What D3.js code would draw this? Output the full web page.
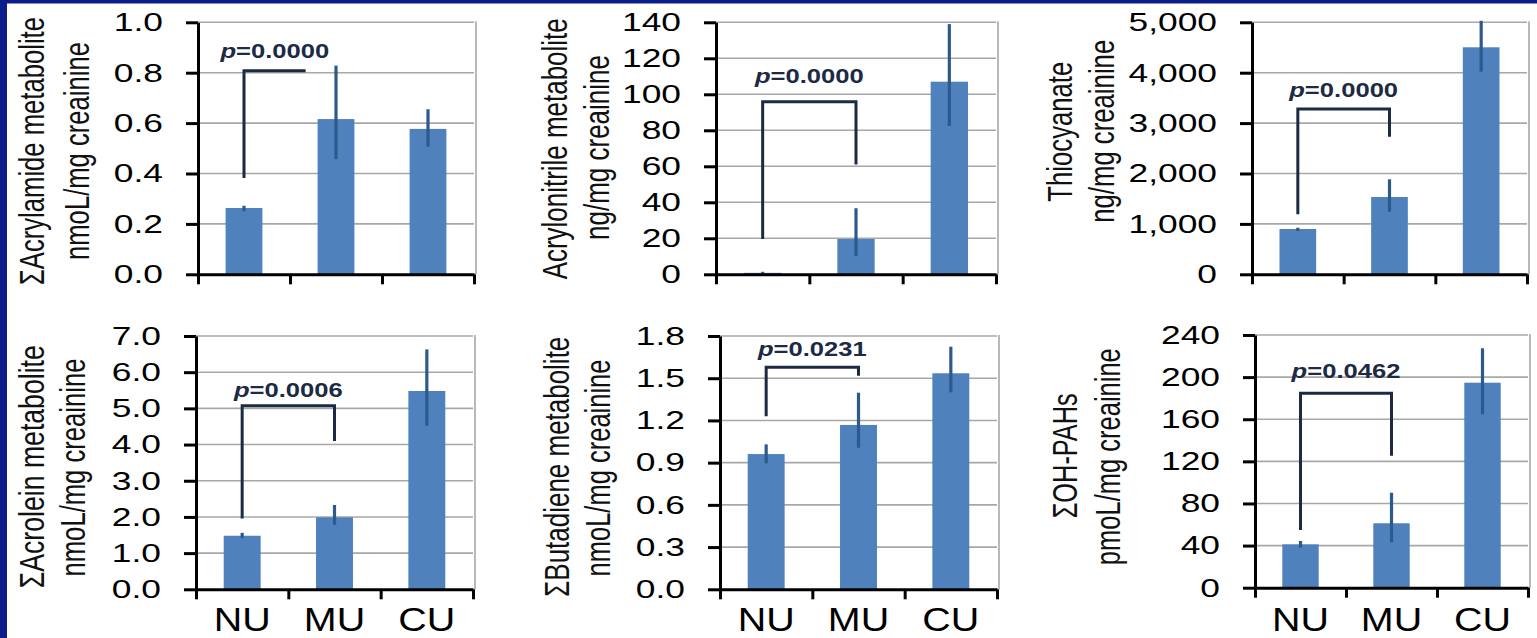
<!DOCTYPE html>
<html>
<head>
<meta charset="utf-8">
<script src="https://cdn.jsdelivr.net/npm/d3@7"></script>
<style>
  html, body { margin: 0; padding: 0; background: #ffffff; }
  svg { display: block; }
</style>
</head>
<body>
<svg id="chart" width="1537" height="638"></svg>
<script>
// ---- data -------------------------------------------------------------
const categories = ["NU", "MU", "CU"];

// Acrylamide metabolites (nmoL/mg creatinine)
const acrylamideMean = [0.263, 0.616, 0.577];
const acrylamideLow  = [0.250, 0.457, 0.506];
const acrylamideHigh = [0.272, 0.828, 0.655];

// Acrylonitrile metabolite (ng/mg creatinine)
const acrylonitrileMean = [0.8, 19.6, 107.0];
const acrylonitrileLow  = [0.3, 10.2, 82.4];
const acrylonitrileHigh = [1.4, 36.7, 139.0];

// Thiocyanate (ng/mg creatinine)
const thiocyanateMean = [899, 1534, 4504];
const thiocyanateLow  = [859, 1242, 4020];
const thiocyanateHigh = [925, 1885, 5030];

// Acrolein metabolites (nmoL/mg creatinine)
const acroleinMean = [1.48, 1.99, 5.48];
const acroleinLow  = [1.41, 1.78, 4.52];
const acroleinHigh = [1.56, 2.33, 6.63];

// Butadiene metabolites (nmoL/mg creatinine)
const butadieneMean = [0.961, 1.168, 1.535];
const butadieneLow  = [0.895, 1.006, 1.400];
const butadieneHigh = [1.030, 1.397, 1.724];

// OH-PAHs (pmoL/mg creatinine)
const ohPahMean = [41.2, 61.2, 194.7];
const ohPahLow  = [38.0, 43.1, 164.7];
const ohPahHigh = [44.4, 90.2, 227.4];

// axis titles (two lines each)
const titles = [
  ["ΣAcrylamide metabolite", "nmoL/mg creainine"],
  ["Acrylonitrile metabolite", "ng/mg creainine"],
  ["Thiocyanate", "ng/mg creainine"],
  ["ΣAcrolein metabolite", "nmoL/mg creainine"],
  ["ΣButadiene metabolite", "nmoL/mg creainine"],
  ["ΣOH-PAHs", "pmoL/mg creainine"]
];

// y axis extent and tick step
const yMax  = [1.0, 140, 5000, 7.0, 1.8, 240];
const yStep = [0.2, 20, 1000, 1.0, 0.3, 40];
const yFormat = [".1f", "d", ",d", ".1f", ".1f", "d"];

// NU vs MU comparison
const pValues = ["0.0000", "0.0000", "0.0000", "0.0006", "0.0231", "0.0462"];
// bracket levels in data units: left leg foot, bar top, right leg foot, label baseline
const bracketLeft  = [0.382, 19.6, 1190, 1.96, 1.23, 54.8];
const bracketTop   = [0.808, 95.9, 3280, 5.07, 1.578, 184.6];
const bracketRight = [0.808, 61.0, 2730, 4.10, 1.518, 125.4];
const pLabelLevel  = [0.860, 106.1, 3524, 5.32, 1.66, 199.2];
// how far the bracket reaches from NU toward MU (1 = MU centre)
const bracketReach = [0.67, 1, 1, 1, 1, 1];

const means = [acrylamideMean, acrylonitrileMean, thiocyanateMean, acroleinMean, butadieneMean, ohPahMean];
const lows  = [acrylamideLow, acrylonitrileLow, thiocyanateLow, acroleinLow, butadieneLow, ohPahLow];
const highs = [acrylamideHigh, acrylonitrileHigh, thiocyanateHigh, acroleinHigh, butadieneHigh, ohPahHigh];

// ---- layout -------------------------------------------------------------
const panels = [
  { x0: 198, x1: 474, yT: 22.3, yB: 274.3, tx: [43.6, 88.6],     ty: [151, 151],     tl: [268, 218], cats: false },
  { x0: 716, x1: 996, yT: 22.3, yB: 274.3, tx: [567, 608.6],     ty: [148.8, 147.5], tl: [261, 185], cats: false },
  { x0: 1252, x1: 1527, yT: 22.3, yB: 274.3, tx: [1072, 1113.6], ty: [131.7, 131.3], tl: [140, 183], cats: false },
  { x0: 196, x1: 473, yT: 336, yB: 589.3, tx: [43.6, 85.3],      ty: [466.7, 467.5], tl: [243, 218], cats: true },
  { x0: 720, x1: 997, yT: 336, yB: 589.3, tx: [568.6, 610.3],    ty: [466.7, 468],   tl: [260, 217], cats: true },
  { x0: 1255, x1: 1528, yT: 335, yB: 587.7, tx: [1077, 1120.3],  ty: [455.8, 456.7], tl: [125, 217], cats: true }
];

const BAR = "#4f81bd";
const ERR = "#2c5a8d";
const GRID = "#a8a8a8";
const BRACKET = "#1c2a44";
const FONT = "'Liberation Sans', Arial, sans-serif";
const TICK_SX = 1.36;   // horizontal stretch of horizontal labels
const TITLE_SY = 1.36;  // glyph-height stretch of the rotated titles
const CAT_BASELINE = 630.5; // keeps the category labels inside the page

const svg = d3.select("#chart");
svg.append("rect").attr("width", 1537).attr("height", 638).attr("fill", "#ffffff");

panels.forEach((p, i) => {
  const g = svg.append("g");
  const y = d3.scaleLinear().domain([0, yMax[i]]).range([p.yB, p.yT]);
  const x = d3.scaleBand().domain(categories).range([p.x0, p.x1]).padding(0);
  const xEdge = d3.scaleLinear().domain([0, categories.length]).range([p.x0, p.x1]);
  const nTicks = Math.round(yMax[i] / yStep[i]);
  const ticks = d3.range(0, nTicks + 1).map(k => +(k * yStep[i]).toFixed(6));
  const cx = c => x(c) + x.bandwidth() / 2;

  // horizontal gridlines
  g.append("g").selectAll("line").data(ticks.filter(t => t > 0)).join("line")
    .attr("x1", p.x0).attr("x2", p.x1)
    .attr("y1", d => y(d)).attr("y2", d => y(d))
    .attr("stroke", GRID).attr("stroke-width", 1.6);
  // right border of plot area
  g.append("line").attr("x1", p.x1 + 2).attr("x2", p.x1 + 2)
    .attr("y1", p.yT - 1).attr("y2", p.yB)
    .attr("stroke", GRID).attr("stroke-width", 1.6);

  // bars
  const rows = categories.map((c, k) => ({ c, v: means[i][k], lo: lows[i][k], hi: highs[i][k] }));
  const bw = x.bandwidth() * 0.4;
  g.append("g").selectAll("rect").data(rows).join("rect")
    .attr("x", d => cx(d.c) - bw / 2)
    .attr("width", bw)
    .attr("y", d => y(d.v))
    .attr("height", d => y(0) - y(d.v))
    .attr("fill", BAR);

  // error bars
  g.append("g").selectAll("line").data(rows).join("line")
    .attr("x1", d => cx(d.c)).attr("x2", d => cx(d.c))
    .attr("y1", d => y(d.lo)).attr("y2", d => y(d.hi))
    .attr("stroke", ERR).attr("stroke-width", 3.2);

  // y axis
  const yAxis = g.append("g").attr("transform", `translate(${p.x0},0)`)
    .call(d3.axisLeft(y).tickValues(ticks).tickSize(12).tickSizeOuter(0)
      .tickFormat(d3.format(yFormat[i])).tickPadding(23));
  yAxis.select(".domain").attr("stroke", "#000").attr("stroke-width", 3);
  yAxis.selectAll(".tick line").attr("stroke", "#000").attr("stroke-width", 3);
  yAxis.selectAll(".tick text")
    .attr("font-family", FONT).attr("font-size", 26).attr("fill", "#000")
    .attr("x", -35 / TICK_SX)
    .attr("transform", `scale(${TICK_SX},1)`);

  // x axis (ticks at category boundaries)
  const xAxis = g.append("g").attr("transform", `translate(0,${p.yB})`)
    .call(d3.axisBottom(xEdge).tickValues(d3.range(0, categories.length + 1))
      .tickSize(10).tickSizeOuter(0).tickFormat(""));
  xAxis.select(".domain").attr("stroke", "#000").attr("stroke-width", 3);
  xAxis.selectAll(".tick line").attr("stroke", "#000").attr("stroke-width", 3);

  // category labels on the lower row
  if (p.cats) {
    g.append("g").selectAll("text").data(categories).join("text")
      .attr("transform", d => `translate(${cx(d)},${Math.min(p.yB + 46, CAT_BASELINE)}) scale(1.16,1)`)
      .attr("text-anchor", "middle")
      .attr("font-family", FONT).attr("font-size", 34).attr("fill", "#000")
      .text(d => d);
  }

  // axis titles
  titles[i].forEach((t, k) => {
    g.append("text")
      .attr("transform", `translate(${p.tx[k]},${p.ty[k]}) rotate(-90) scale(1,${TITLE_SY})`)
      .attr("text-anchor", "middle")
      .attr("font-family", FONT).attr("font-size", 26).attr("fill", "#111")
      .attr("textLength", p.tl[k]).attr("lengthAdjust", "spacingAndGlyphs")
      .text(t);
  });

  // significance bracket NU vs MU
  const xl = cx("NU");
  const xr = xl + bracketReach[i] * (cx("MU") - cx("NU"));
  g.append("path")
    .attr("d", `M${xl},${y(bracketLeft[i])}V${y(bracketTop[i])}H${xr}V${y(bracketRight[i])}`)
    .attr("fill", "none").attr("stroke", BRACKET).attr("stroke-width", 3);

  const lbl = g.append("text")
    .attr("transform", `translate(${(xl + xr) / 2},${y(pLabelLevel[i])}) scale(1.28,1)`)
    .attr("text-anchor", "middle")
    .attr("font-family", FONT).attr("font-size", 20).attr("font-weight", "bold")
    .attr("fill", BRACKET);
  lbl.append("tspan").attr("font-style", "italic").text("p");
  lbl.append("tspan").text("=" + pValues[i]);
});

// slide frame
svg.append("rect").attr("x", 0).attr("y", 0).attr("width", 1537).attr("height", 3.5).attr("fill", "#0b1d88");
svg.append("rect").attr("x", 0).attr("y", 0).attr("width", 7).attr("height", 638).attr("fill", "#0b1d88");
</script>
</body>
</html>
